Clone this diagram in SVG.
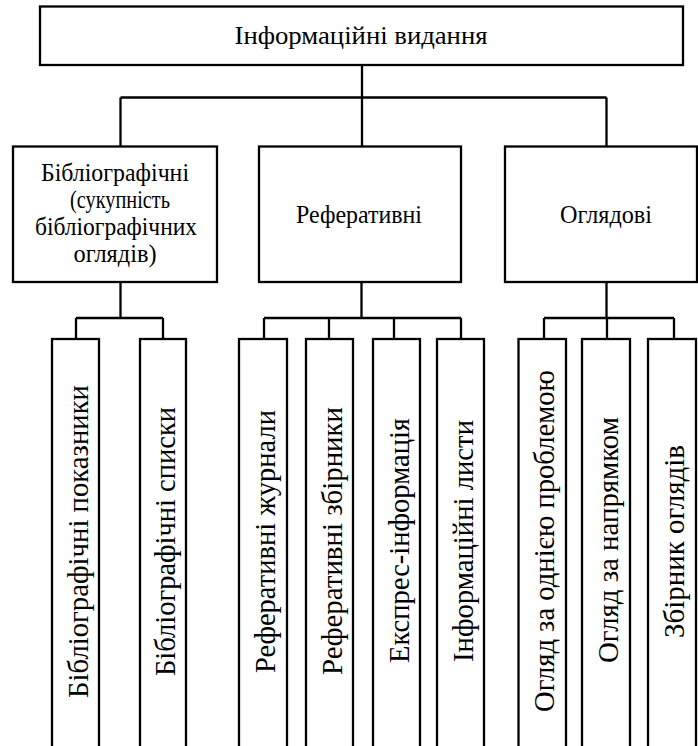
<svg xmlns="http://www.w3.org/2000/svg" width="698" height="746" viewBox="0 0 698 746">
<style>
.box{fill:#fff;stroke:#000;stroke-width:2.3}
.con{fill:none;stroke:#000;stroke-width:2.3}
</style>
<rect width="698" height="746" fill="#fff"/>
<g id="connectors" class="con">
<path d="M362 65V147M120.5 97.5H606.5M120.5 97.5V147M606.5 97.5V147"/>
<path d="M120.5 282V318M76 318H163M76 318V339M163 318V339"/>
<path d="M361.5 282V318M264 318H461M264 318V339M329 318V339M394 318V339M461 318V339"/>
<path d="M606.5 282V318M544 318H674M544 318V339M607 318V339M674 318V339"/>
</g>
<g id="root"><rect class="box" x="40" y="6.5" width="643" height="58.5"/><text font-family="Liberation Serif" font-size="25" x="234.5" y="44" textLength="253" lengthAdjust="spacingAndGlyphs">Інформаційні видання</text></g>
<g id="bibl"><rect class="box" x="13" y="146.5" width="204" height="135.5"/>
<text font-family="Liberation Serif" font-size="26" x="41" y="181" textLength="148" lengthAdjust="spacingAndGlyphs">Бібліографічні</text>
<text font-family="Liberation Serif" font-size="26" x="70" y="208" textLength="100" lengthAdjust="spacingAndGlyphs">(сукупність</text>
<text font-family="Liberation Serif" font-size="26" x="35" y="235" textLength="162" lengthAdjust="spacingAndGlyphs">бібліографічних</text>
<text font-family="Liberation Serif" font-size="26" x="73.5" y="262" textLength="83" lengthAdjust="spacingAndGlyphs">оглядів)</text></g>
<g id="ref"><rect class="box" x="259" y="146.5" width="202" height="135.5"/><text font-family="Liberation Serif" font-size="26" x="296" y="223" textLength="126" lengthAdjust="spacingAndGlyphs">Реферативні</text></g>
<g id="ogl"><rect class="box" x="505" y="146.5" width="192" height="135.5"/><text font-family="Liberation Serif" font-size="26" x="560" y="223" textLength="92" lengthAdjust="spacingAndGlyphs">Оглядові</text></g>
<g id="b1"><rect class="box" x="52" y="339" width="47" height="410"/><text font-family="Liberation Serif" font-size="29" transform="translate(75.5 541.5) rotate(-90)" x="-156.5" y="12" textLength="313" lengthAdjust="spacingAndGlyphs">Бібліографічні показники</text></g>
<g id="b2"><rect class="box" x="140" y="339" width="46" height="410"/><text font-family="Liberation Serif" font-size="29" transform="translate(163 541.5) rotate(-90)" x="-134.5" y="12" textLength="269" lengthAdjust="spacingAndGlyphs">Бібліографічні списки</text></g>
<g id="r1"><rect class="box" x="239" y="339" width="48" height="410"/><text font-family="Liberation Serif" font-size="29" transform="translate(263 541.5) rotate(-90)" x="-131.5" y="12" textLength="263" lengthAdjust="spacingAndGlyphs">Реферативні журнали</text></g>
<g id="r2"><rect class="box" x="306" y="339" width="47" height="410"/><text font-family="Liberation Serif" font-size="29" transform="translate(329.5 541) rotate(-90)" x="-134" y="12" textLength="268" lengthAdjust="spacingAndGlyphs">Реферативні збірники</text></g>
<g id="r3"><rect class="box" x="373" y="339" width="47" height="410"/><text font-family="Liberation Serif" font-size="29" transform="translate(396.5 540.5) rotate(-90)" x="-122.5" y="12" textLength="245" lengthAdjust="spacingAndGlyphs">Експрес-інформація</text></g>
<g id="r4"><rect class="box" x="437" y="339" width="47" height="410"/><text font-family="Liberation Serif" font-size="29" transform="translate(460.5 541) rotate(-90)" x="-121" y="12" textLength="242" lengthAdjust="spacingAndGlyphs">Інформаційні листи</text></g>
<g id="o1"><rect class="box" x="518.5" y="339" width="47.5" height="410"/><text font-family="Liberation Serif" font-size="29" transform="translate(542 541) rotate(-90)" x="-171" y="12" textLength="342" lengthAdjust="spacingAndGlyphs">Огляд за однією проблемою</text></g>
<g id="o2"><rect class="box" x="582" y="339" width="48" height="410"/><text font-family="Liberation Serif" font-size="29" transform="translate(606 540) rotate(-90)" x="-123" y="12" textLength="246" lengthAdjust="spacingAndGlyphs">Огляд за напрямком</text></g>
<g id="o3"><rect class="box" x="648" y="339" width="48" height="410"/><text font-family="Liberation Serif" font-size="29" transform="translate(672 541.5) rotate(-90)" x="-96.5" y="12" textLength="193" lengthAdjust="spacingAndGlyphs">Збірник оглядів</text></g>
</svg>
